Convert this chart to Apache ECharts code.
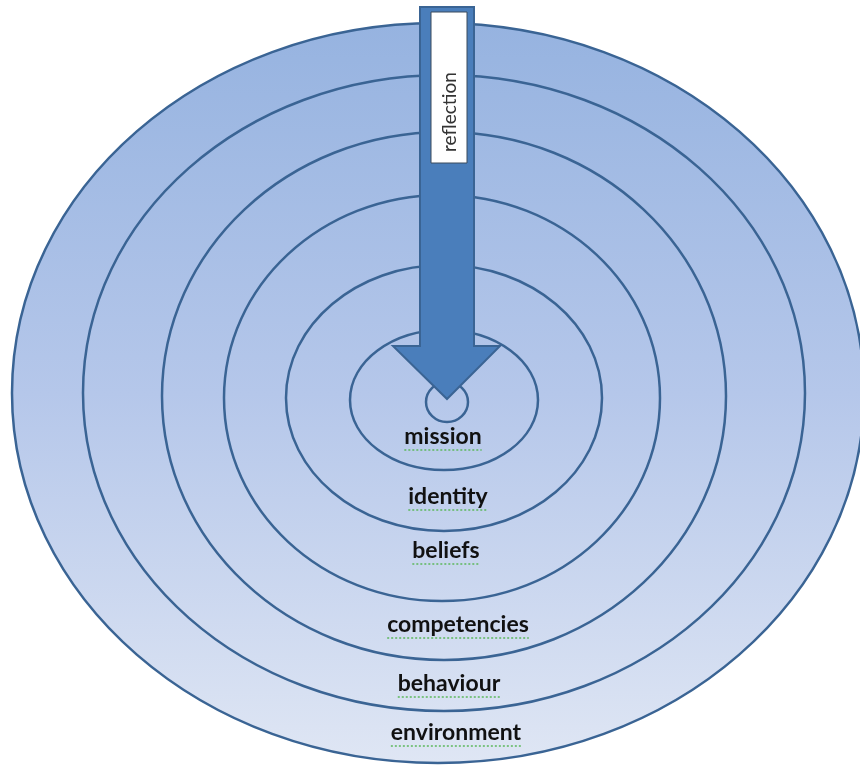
<!DOCTYPE html>
<html>
<head>
<meta charset="utf-8">
<script src="https://cdn.jsdelivr.net/npm/echarts@6/dist/echarts.min.js"></script>
<style>
  html, body { margin: 0; background: #fff; }
  .main { width: 860px; height: 765px; }
</style>
</head>
<body>
<div id="chart" class="main"></div>
<script>
// rings, outside in (diagram units = picture pixels)
const ringCx = [438, 444, 444, 442, 444, 444, 447];
const ringCy = [393, 393, 396, 398, 398, 400, 402];
const ringRx = [426, 361, 282, 218, 158, 94, 21];
const ringRy = [370, 318, 264, 203, 133, 70, 20];

// level names, inside out
const levels = ["mission", "identity", "beliefs", "competencies", "behaviour", "environment"];
const levelX = [443, 448, 446, 458, 449, 456];
const levelY = [437, 497, 551, 625, 684, 733];

// reflection arrow: shaft left, shaft right, top, head start / head left, head right, tip
const arrowShaft = [420, 474, 7, 346];
const arrowHead = [393, 500, 399];
// text box on the shaft: left, right, top, bottom
const reflectBox = [431, 467, 12, 163];
const reflectText = "reflection";

const myChart = echarts.init(document.getElementById("chart"));

const measure = document.createElement("canvas").getContext("2d");
measure.font = "bold 23px Lato";

const ringData = ringCx.map((x, i) => [x, ringCy[i], ringRx[i], ringRy[i]]);
const levelData = levels.map((name, i) => [levelX[i], levelY[i], name]);

const option = {
  animation: false,
  grid: { left: 0, right: 0, top: 0, bottom: 0 },
  xAxis: { type: "value", min: 0, max: 860, show: false },
  yAxis: { type: "value", min: 0, max: 765, inverse: true, show: false },
  series: [
    {
      type: "custom",
      name: "rings",
      data: ringData,
      renderItem(params, api) {
        const c = api.coord([api.value(0), api.value(1)]);
        const s = api.size([api.value(2), api.value(3)]);
        const top = api.coord([0, ringCy[0] - ringRy[0]])[1];
        const bottom = api.coord([0, ringCy[0] + ringRy[0]])[1];
        return {
          type: "ellipse",
          shape: { cx: c[0], cy: c[1], rx: Math.abs(s[0]), ry: Math.abs(s[1]) },
          style: {
            fill: new echarts.graphic.LinearGradient(0, top, 0, bottom, [
              { offset: 0, color: "#96b3e0" },
              { offset: 0.5, color: "#b5c7ea" },
              { offset: 1, color: "#dfe6f4" },
            ], true),
            stroke: "#3a6494",
            lineWidth: 2.5,
          },
        };
      },
    },
    {
      type: "custom",
      name: "arrow",
      data: [[0]],
      renderItem(params, api) {
        const [x0, x1, yTop, yHead] = arrowShaft;
        const [hl, hr, tip] = arrowHead;
        const mid = (x0 + x1) / 2;
        const pts = [
          [x0, yTop], [x1, yTop], [x1, yHead], [hr, yHead],
          [mid, tip], [hl, yHead], [x0, yHead],
        ].map((p) => api.coord(p));
        const b0 = api.coord([reflectBox[0], reflectBox[2]]);
        const b1 = api.coord([reflectBox[1], reflectBox[3]]);
        const tc = api.coord([(reflectBox[0] + reflectBox[1]) / 2 + 1, 112]);
        return {
          type: "group",
          children: [
            {
              type: "polygon",
              shape: { points: pts },
              style: { fill: "#4a7ebb", stroke: "#3a6494", lineWidth: 2 },
            },
            {
              type: "rect",
              shape: { x: b0[0], y: b0[1], width: b1[0] - b0[0], height: b1[1] - b0[1] },
              style: { fill: "#ffffff", stroke: "#3b4a5c", lineWidth: 1 },
            },
            {
              type: "text",
              x: tc[0],
              y: tc[1],
              rotation: Math.PI / 2,
              style: {
                text: reflectText,
                fill: "#333",
                font: "19px Lato",
                align: "center",
                verticalAlign: "middle",
              },
            },
          ],
        };
      },
    },
    {
      type: "custom",
      name: "levels",
      data: levelData,
      renderItem(params, api) {
        const p = api.coord([api.value(0), api.value(1)]);
        const name = levels[params.dataIndex];
        const w = measure.measureText(name).width;
        return {
          type: "group",
          children: [
            {
              type: "text",
              x: p[0],
              y: p[1],
              style: {
                text: name,
                fill: "#111",
                font: "bold 23px Lato",
                align: "center",
                verticalAlign: "middle",
              },
            },
            {
              type: "line",
              shape: { x1: p[0] - w / 2, y1: p[1] + 13, x2: p[0] + w / 2, y2: p[1] + 13 },
              style: { stroke: "#5cb85c", lineWidth: 1.5, lineDash: [2, 2] },
            },
          ],
        };
      },
    },
  ],
};

option && myChart.setOption(option);
</script>
</body>
</html>
